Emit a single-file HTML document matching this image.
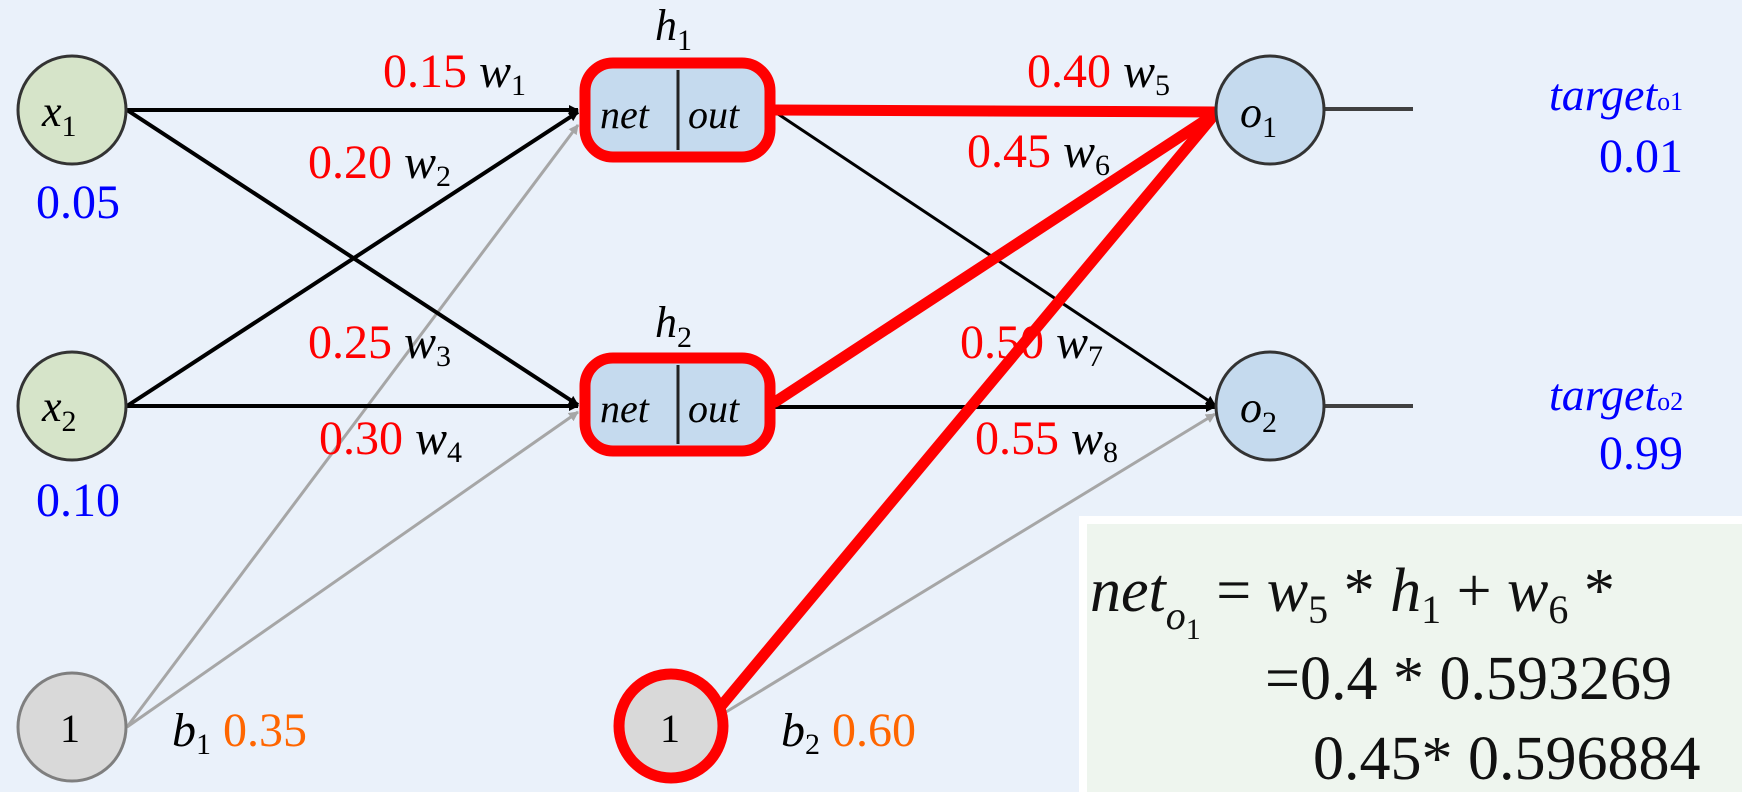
<!DOCTYPE html>
<html><head><meta charset="utf-8"><style>
html,body{margin:0;padding:0;background:#EAF1FA;}
svg{display:block;font-family:"Liberation Serif","DejaVu Serif",serif;}
text,tspan{font-family:"Liberation Serif","DejaVu Serif",serif;}
.m{font-style:italic;}
.n{font-style:normal;}
</style></head><body>
<svg width="1742" height="792" viewBox="0 0 1742 792" xmlns="http://www.w3.org/2000/svg" font-family="Liberation Serif, serif">
<defs>
<marker id="ab" markerWidth="10" markerHeight="10" refX="9" refY="5" orient="auto" markerUnits="userSpaceOnUse"><path d="M0,0 L10,5 L0,10 z" fill="#000"/></marker>
<marker id="ag" markerWidth="10" markerHeight="10" refX="9" refY="5" orient="auto" markerUnits="userSpaceOnUse"><path d="M0,0 L10,5 L0,10 z" fill="#A6A6A6"/></marker>
</defs>
<rect width="1742" height="792" fill="#EAF1FA"/>
<g stroke="#A6A6A6" stroke-width="3" fill="none">
<line x1="127" y1="727" x2="578" y2="125" marker-end="url(#ag)"/>
<line x1="127" y1="727" x2="578" y2="412" marker-end="url(#ag)"/>
<line x1="726" y1="712" x2="1215" y2="414" marker-end="url(#ag)"/>
</g>
<g stroke="#000" stroke-width="4" fill="none">
<line x1="127" y1="110" x2="578" y2="110" marker-end="url(#ab)"/>
<line x1="127" y1="110" x2="578" y2="405" marker-end="url(#ab)"/>
<line x1="127" y1="406" x2="578" y2="112" marker-end="url(#ab)"/>
<line x1="127" y1="406" x2="578" y2="406" marker-end="url(#ab)"/>
<line x1="775" y1="112" x2="1215" y2="405" stroke-width="3" marker-end="url(#ab)"/>
<line x1="775" y1="407" x2="1215" y2="407" marker-end="url(#ab)"/>
</g>
<line x1="1324" y1="109" x2="1413" y2="109" stroke="#404040" stroke-width="4"/>
<line x1="1324" y1="406" x2="1413" y2="406" stroke="#404040" stroke-width="4"/>
<g stroke="#FF0000" stroke-width="11" stroke-linecap="round" fill="none">
<line x1="775" y1="110" x2="1215" y2="112"/>
<line x1="775" y1="402" x2="1215" y2="114"/>
<line x1="722" y1="705" x2="1215" y2="114"/>
</g>
<circle cx="72" cy="110" r="54" fill="#D6E4C9" stroke="#333" stroke-width="3"/>
<circle cx="72" cy="406" r="54" fill="#D6E4C9" stroke="#333" stroke-width="3"/>
<circle cx="72" cy="727" r="54" fill="#D9D9D9" stroke="#7F7F7F" stroke-width="3"/>
<circle cx="671" cy="726" r="52" fill="#D9D9D9" stroke="#FF0000" stroke-width="11"/>
<circle cx="1270" cy="110" r="54" fill="#C5DAEE" stroke="#333" stroke-width="3"/>
<circle cx="1270" cy="406" r="54" fill="#C5DAEE" stroke="#333" stroke-width="3"/>
<rect x="585" y="63" width="185" height="94" rx="28" fill="#C5DAEE" stroke="#FF0000" stroke-width="11"/>
<line x1="678" y1="70" x2="678" y2="150" stroke="#222" stroke-width="3"/>
<rect x="585" y="358" width="185" height="93" rx="28" fill="#C5DAEE" stroke="#FF0000" stroke-width="11"/>
<line x1="678" y1="365" x2="678" y2="444" stroke="#222" stroke-width="3"/>
<g class="m" font-size="40" fill="#000" font-style="italic">
<text x="600" y="128">net</text><text x="688" y="128">out</text>
<text x="600" y="422">net</text><text x="688" y="422">out</text>
</g>
<g fill="#000" font-size="44">
<text x="42" y="126" font-style="italic">x<tspan font-size="30" font-style="normal" dy="10">1</tspan></text>
<text x="42" y="421" font-style="italic">x<tspan font-size="30" font-style="normal" dy="10">2</tspan></text>
<text x="1240" y="127" font-style="italic">o<tspan font-size="30" font-style="normal" dy="10">1</tspan></text>
<text x="1240" y="422" font-style="italic">o<tspan font-size="30" font-style="normal" dy="10">2</tspan></text>
<text x="655" y="40" font-style="italic">h<tspan font-size="30" font-style="normal" dy="10">1</tspan></text>
<text x="655" y="337" font-style="italic">h<tspan font-size="30" font-style="normal" dy="10">2</tspan></text>
</g>
<g font-size="40" fill="#000"><text x="60" y="742">1</text><text x="660" y="742">1</text></g>
<g font-size="48">
<text x="383" y="87"><tspan fill="#FF0000">0.15</tspan><tspan font-style="italic" fill="#000"> w</tspan><tspan font-size="30" dy="8">1</tspan></text>
<text x="308" y="178"><tspan fill="#FF0000">0.20</tspan><tspan font-style="italic" fill="#000"> w</tspan><tspan font-size="30" dy="8">2</tspan></text>
<text x="308" y="358"><tspan fill="#FF0000">0.25</tspan><tspan font-style="italic" fill="#000"> w</tspan><tspan font-size="30" dy="8">3</tspan></text>
<text x="319" y="454"><tspan fill="#FF0000">0.30</tspan><tspan font-style="italic" fill="#000"> w</tspan><tspan font-size="30" dy="8">4</tspan></text>
<text x="1027" y="87"><tspan fill="#FF0000">0.40</tspan><tspan font-style="italic" fill="#000"> w</tspan><tspan font-size="30" dy="8">5</tspan></text>
<text x="967" y="167"><tspan fill="#FF0000">0.45</tspan><tspan font-style="italic" fill="#000"> w</tspan><tspan font-size="30" dy="8">6</tspan></text>
<text x="960" y="358"><tspan fill="#FF0000">0.50</tspan><tspan font-style="italic" fill="#000"> w</tspan><tspan font-size="30" dy="8">7</tspan></text>
<text x="975" y="454"><tspan fill="#FF0000">0.55</tspan><tspan font-style="italic" fill="#000"> w</tspan><tspan font-size="30" dy="8">8</tspan></text>
<text x="172" y="746"><tspan font-style="italic" fill="#000">b</tspan><tspan font-size="30" dy="8">1</tspan><tspan fill="#FF6600" dy="-8"> 0.35</tspan></text>
<text x="781" y="746"><tspan font-style="italic" fill="#000">b</tspan><tspan font-size="30" dy="8">2</tspan><tspan fill="#FF6600" dy="-8"> 0.60</tspan></text>
<text x="36" y="218" fill="#0000FF">0.05</text>
<text x="36" y="516" fill="#0000FF">0.10</text>
<text x="1599" y="172" fill="#0000FF">0.01</text>
<text x="1599" y="469" fill="#0000FF">0.99</text>
</g>
<g fill="#0000FF" font-size="46">
<text x="1549" y="110" font-style="italic">target<tspan font-style="normal" font-size="26">o1</tspan></text>
<text x="1549" y="410" font-style="italic">target<tspan font-style="normal" font-size="26">o2</tspan></text>
</g>
<rect x="1079" y="516" width="700" height="300" fill="#FFFFFF"/>
<rect x="1087" y="524" width="700" height="300" fill="#EEF5EE"/>
<g font-size="62" fill="#111">
<text x="1090" y="611"><tspan font-style="italic">net</tspan><tspan font-style="italic" font-size="40" dy="18">o</tspan><tspan font-size="30" dy="10">1</tspan><tspan dy="-28"> = </tspan><tspan font-style="italic">w</tspan><tspan font-size="40" dy="12">5</tspan><tspan dy="-12"> * </tspan><tspan font-style="italic">h</tspan><tspan font-size="40" dy="12">1</tspan><tspan dy="-12"> + </tspan><tspan font-style="italic">w</tspan><tspan font-size="40" dy="12">6</tspan><tspan dy="-12"> *</tspan></text>
<text x="1265" y="699">=0.4 * 0.593269</text>
<text x="1313" y="779">0.45* 0.596884</text>
</g>
</svg>
</body></html>
